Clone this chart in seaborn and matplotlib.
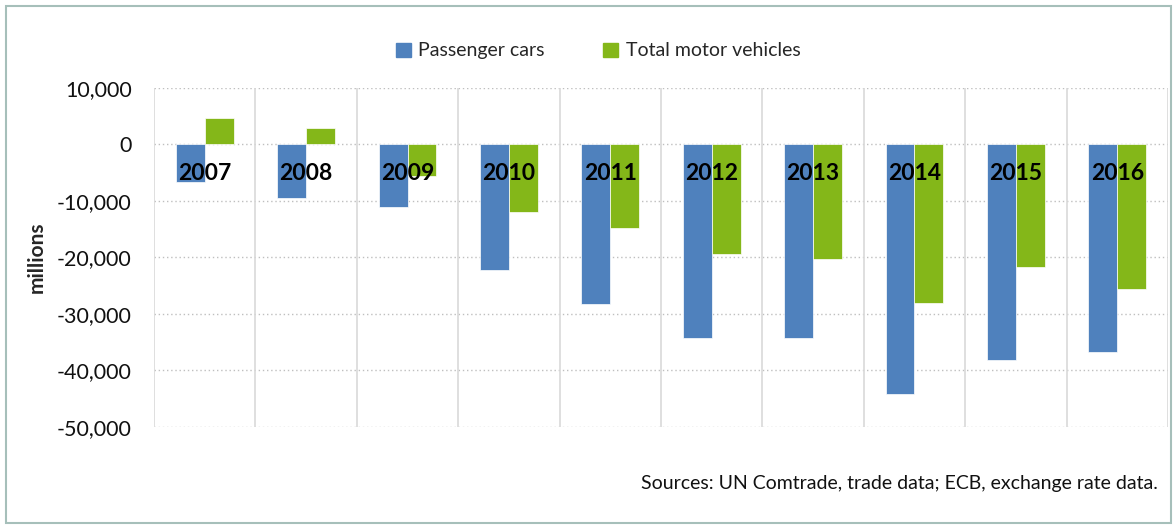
import matplotlib
matplotlib.use("Agg")
import matplotlib.pyplot as plt
import matplotlib.patches as mpatches
import seaborn as sns
import pandas as pd

years = ["2007", "2008", "2009", "2010", "2011", "2012", "2013", "2014", "2015", "2016"]
passenger_cars = [-6700, -9400, -11000, -22300, -28300, -34200, -34200, -44100, -38200, -36800]
total_motor_vehicles = [4600, 3000, -5500, -12000, -14700, -19300, -20200, -28100, -21600, -25500]
series_names = ["Passenger cars", "Total motor vehicles"]
colors = ["#4F81BD", "#84B719"]
yticks = [10000, 0, -10000, -20000, -30000, -40000, -50000]

df = pd.DataFrame({
    "year": years * 2,
    "value": passenger_cars + total_motor_vehicles,
    "series": [series_names[0]] * len(years) + [series_names[1]] * len(years),
})

sns.set_theme(style="white")
plt.rcParams["font.family"] = ["Lato", "DejaVu Sans"]

fig = plt.figure(figsize=(11.73, 5.25), dpi=100)
ax = fig.add_axes([0.1313, 0.1867, 0.8644, 0.6457])

sns.barplot(data=df, x="year", y="value", hue="series", palette=colors,
            width=0.57, dodge=True, ax=ax, legend=False, saturation=1,
            edgecolor="white", linewidth=0.5)

ax.set_ylim(-50000, 10000)
ax.set_xlim(-0.5, len(years) - 0.5)
ax.set_yticks(yticks)
ax.set_yticklabels([f"{v:,}" for v in yticks], fontsize=15.5, color="#111111")
ax.tick_params(axis="y", length=0, pad=16)
ax.set_xticks([])
ax.set_xlabel("")
ax.set_ylabel("millions", fontsize=15, fontweight="bold", labelpad=7)

for s in ax.spines.values():
    s.set_visible(False)

# gridlines
for v in yticks:
    ax.axhline(v, color="#BFBFBF", linestyle=(0, (1, 2)), linewidth=1, zorder=0)
for i in range(len(years) + 1):
    ax.axvline(i - 0.5, color="#D9D9D9", linewidth=1.2, zorder=0)

# category labels inside the plot
for i, y in enumerate(years):
    ax.text(i, 0.749, y, transform=ax.get_xaxis_transform(), ha="center", va="center",
            fontsize=16.5, fontweight="bold", color="black", zorder=5)

handles = [mpatches.Patch(color=c, label=n) for c, n in zip(colors, series_names)]
fig.legend(handles=handles, loc="center", bbox_to_anchor=(0.51, 0.903), ncol=2,
           frameon=False, fontsize=14, handlelength=0.75, handleheight=0.75,
           columnspacing=3.0, handletextpad=0.4)

fig.text(0.987, 0.08, "Sources: UN Comtrade, trade data; ECB, exchange rate data.",
         ha="right", va="center", fontsize=14, color="#111111")

border = mpatches.Rectangle((0.005, 0.004), 0.993, 0.985, transform=fig.transFigure,
                            fill=False, edgecolor="#A6BFBA", linewidth=1.5)
fig.patches.append(border)

fig.savefig("out.png", dpi=100)
